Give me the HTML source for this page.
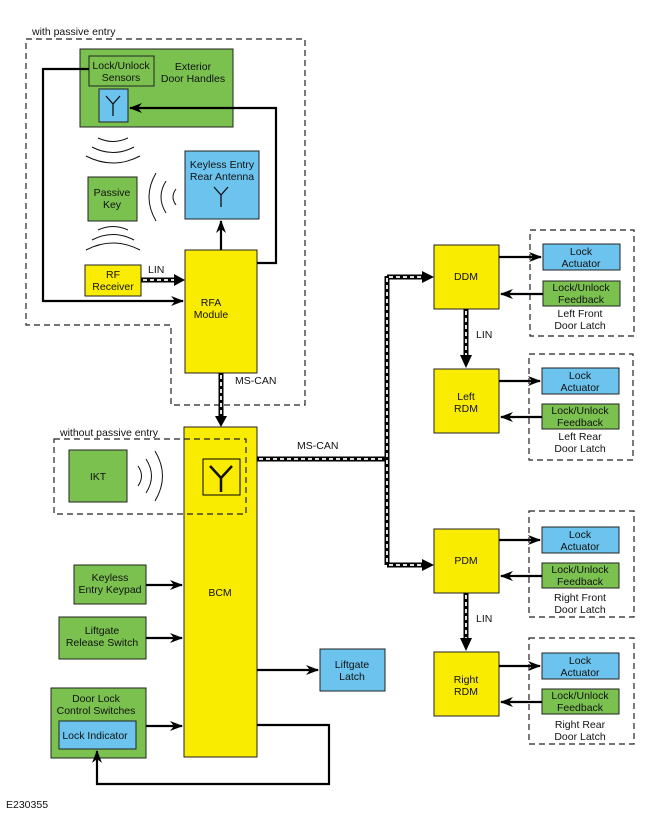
<!DOCTYPE html>
<html><head><style>body{margin:0;background:#fff}svg{display:block}text{font-family:"Liberation Sans",sans-serif;font-size:10.5px;fill:#111}</style></head><body>
<svg width="650" height="820" viewBox="0 0 650 820" xmlns="http://www.w3.org/2000/svg">
<defs>
<marker id="a" markerWidth="13" markerHeight="10" refX="12" refY="5" orient="auto" markerUnits="userSpaceOnUse"><path d="M0,0 L13,5 L0,10 L4,5 Z" fill="#000"/></marker>
</defs>
<text x="32" y="35">with passive entry</text>
<text x="60" y="436">without passive entry</text>
<g stroke="#222" stroke-width="1">
<rect x="80" y="49" width="153" height="78" fill="#7bc14f"/>
<rect x="89" y="56" width="65" height="30" fill="#7bc14f"/>
<rect x="99" y="89" width="29" height="33" fill="#6cc4ee"/>
<rect x="185" y="151" width="74" height="68" fill="#6cc4ee"/>
<rect x="88" y="177" width="49" height="44" fill="#7bc14f"/>
<rect x="85" y="265" width="56" height="31" fill="#f9ec00"/>
<rect x="185" y="250" width="72" height="123" fill="#f9ec00"/>
<rect x="184" y="427" width="73" height="330" fill="#f9ec00"/>
<rect x="203" y="459" width="37" height="36" fill="#f9ec00" stroke="#000"/>
<rect x="69" y="450" width="58" height="52" fill="#7bc14f"/>
<rect x="74" y="565" width="72" height="39" fill="#7bc14f"/>
<rect x="59" y="617" width="87" height="42" fill="#7bc14f"/>
<rect x="320" y="649" width="65" height="42" fill="#6cc4ee"/>
<rect x="51" y="688" width="95" height="70" fill="#7bc14f"/>
<rect x="59" y="721" width="77" height="28" fill="#6cc4ee"/>
<rect x="434" y="245" width="65" height="64" fill="#f9ec00"/>
<rect x="434" y="369" width="65" height="64" fill="#f9ec00"/>
<rect x="434" y="529" width="65" height="64" fill="#f9ec00"/>
<rect x="434" y="652" width="65" height="64" fill="#f9ec00"/>
<rect x="543" y="244" width="77" height="26" fill="#6cc4ee"/>
<rect x="543" y="281" width="77" height="25" fill="#7bc14f"/>
<rect x="542" y="368" width="77" height="26" fill="#6cc4ee"/>
<rect x="542" y="404" width="77" height="25" fill="#7bc14f"/>
<rect x="542" y="527" width="77" height="26" fill="#6cc4ee"/>
<rect x="542" y="563" width="77" height="25" fill="#7bc14f"/>
<rect x="542" y="653" width="77" height="26" fill="#6cc4ee"/>
<rect x="542" y="689" width="77" height="25" fill="#7bc14f"/>
</g>
<g fill="none" stroke="#222" stroke-width="1.2" stroke-dasharray="6,4">
<path d="M26,39 H305 V405 H171 V325 H26 Z"/>
<rect x="54" y="439" width="192" height="75"/>
<rect x="530" y="230" width="104" height="106"/>
<rect x="529" y="354" width="104" height="106"/>
<rect x="529" y="511" width="105" height="106"/>
<rect x="529" y="638" width="105" height="106"/>
</g>
<!-- antennas -->
<g stroke="#111" fill="none" stroke-width="1.3">
<path d="M106,96 L113,104 L120,96 M113,104 V116"/>
<path d="M214,187 L221,195 L228,187 M221,195 V207"/>
<path d="M210,466 L221,478 L232,466 M221,478 V492" stroke-width="2.5"/>
</g>
<!-- waves -->
<g stroke="#111" fill="none" stroke-width="1">
<path d="M98,138 Q113,145 128,138"/><path d="M92,147 Q113,158 134,147"/><path d="M86,156 Q113,170 140,156"/>
<path d="M98,230 Q113,223 128,230"/><path d="M92,240 Q113,229 134,240"/><path d="M86,250 Q113,236 140,250"/>
<path d="M176,189 Q170,197 176,205"/><path d="M166,181 Q156,197 166,213"/><path d="M156,173 Q142,197 156,221"/>
<path d="M138,466 Q145,476 138,486"/><path d="M146,459 Q157,476 146,493"/><path d="M155,451 Q170,476 155,501"/>
</g>
<!-- connectors -->
<g stroke="#000" stroke-width="2.2" fill="none">
<path d="M89,69 H43 V301 H183" marker-end="url(#a)"/>
<path d="M257,263 H276 V108 H130" marker-end="url(#a)"/>
<path d="M221,250 V221" marker-end="url(#a)"/>
<path d="M146,585 H182" marker-end="url(#a)"/>
<path d="M146,638 H182" marker-end="url(#a)"/>
<path d="M146,726 H182" marker-end="url(#a)"/>
<path d="M257,670 H318" marker-end="url(#a)"/>
<path d="M257,725 H329 V784 H97 V751" marker-end="url(#a)"/>
<path d="M499,257 H541" marker-end="url(#a)"/>
<path d="M543,294 H501" marker-end="url(#a)"/>
<path d="M499,381 H540" marker-end="url(#a)"/>
<path d="M542,417 H501" marker-end="url(#a)"/>
<path d="M499,540 H540" marker-end="url(#a)"/>
<path d="M542,576 H501" marker-end="url(#a)"/>
<path d="M499,666 H540" marker-end="url(#a)"/>
<path d="M542,702 H501" marker-end="url(#a)"/>
</g>
<!-- bus lines -->
<g fill="none">
<path d="M141,280 H176 M221,373 V418 M257,459 H387 M387,276 V565 M387,277 H424 M387,565 H424 M466,309 V357 M466,593 V640" stroke="#000" stroke-width="5"/>
<path d="M143,280 H176 M221,375 V418 M259,459 H385 M387,278 V563 M389,277 H424 M389,565 H424 M466,311 V357 M466,595 V640" stroke="#fff" stroke-width="1.8" stroke-dasharray="4,3"/>
<g fill="#000"><path d="M174,274 L185,280 L174,286 Z"/><path d="M215,416 L221,427 L227,416 Z"/><path d="M422,271 L434,277 L422,283 Z"/><path d="M422,559 L434,565 L422,571 Z"/><path d="M460,355 L466,368 L472,355 Z"/><path d="M460,638 L466,651 L472,638 Z"/></g>
</g>
<g text-anchor="middle">
<text x="121" y="69">Lock/Unlock</text><text x="121" y="81">Sensors</text>
<text x="193" y="70">Exterior</text><text x="193" y="82">Door Handles</text>
<text x="222" y="168">Keyless Entry</text><text x="222" y="180">Rear Antenna</text>
<text x="112" y="196">Passive</text><text x="112" y="208">Key</text>
<text x="113" y="278">RF</text><text x="113" y="290">Receiver</text>
<text x="211" y="306">RFA</text><text x="211" y="318">Module</text>
<text x="98" y="480">IKT</text>
<text x="220" y="596">BCM</text>
<text x="110" y="581">Keyless</text><text x="110" y="593">Entry Keypad</text>
<text x="102" y="634">Liftgate</text><text x="102" y="646">Release Switch</text>
<text x="352" y="668">Liftgate</text><text x="352" y="680">Latch</text>
<text x="96" y="702">Door Lock</text><text x="96" y="714">Control Switches</text>
<text x="95" y="739">Lock Indicator</text>
<text x="466" y="280">DDM</text>
<text x="466" y="400">Left</text><text x="466" y="412">RDM</text>
<text x="466" y="564">PDM</text>
<text x="466" y="683">Right</text><text x="466" y="695">RDM</text>
<text x="581" y="255">Lock</text><text x="581" y="267">Actuator</text>
<text x="581" y="291">Lock/Unlock</text><text x="581" y="303">Feedback</text>
<text x="580" y="317">Left Front</text><text x="580" y="329">Door Latch</text>
<text x="580" y="379">Lock</text><text x="580" y="391">Actuator</text>
<text x="580" y="414">Lock/Unlock</text><text x="580" y="426">Feedback</text>
<text x="580" y="440">Left Rear</text><text x="580" y="452">Door Latch</text>
<text x="580" y="538">Lock</text><text x="580" y="550">Actuator</text>
<text x="580" y="573">Lock/Unlock</text><text x="580" y="585">Feedback</text>
<text x="580" y="601">Right Front</text><text x="580" y="613">Door Latch</text>
<text x="580" y="664">Lock</text><text x="580" y="676">Actuator</text>
<text x="580" y="699">Lock/Unlock</text><text x="580" y="711">Feedback</text>
<text x="580" y="728">Right Rear</text><text x="580" y="740">Door Latch</text>
</g>
<text x="148" y="273">LIN</text>
<text x="235" y="384">MS-CAN</text>
<text x="297" y="449">MS-CAN</text>
<text x="476" y="338">LIN</text>
<text x="476" y="622">LIN</text>
<text x="6" y="808">E230355</text>
</svg>
</body></html>
